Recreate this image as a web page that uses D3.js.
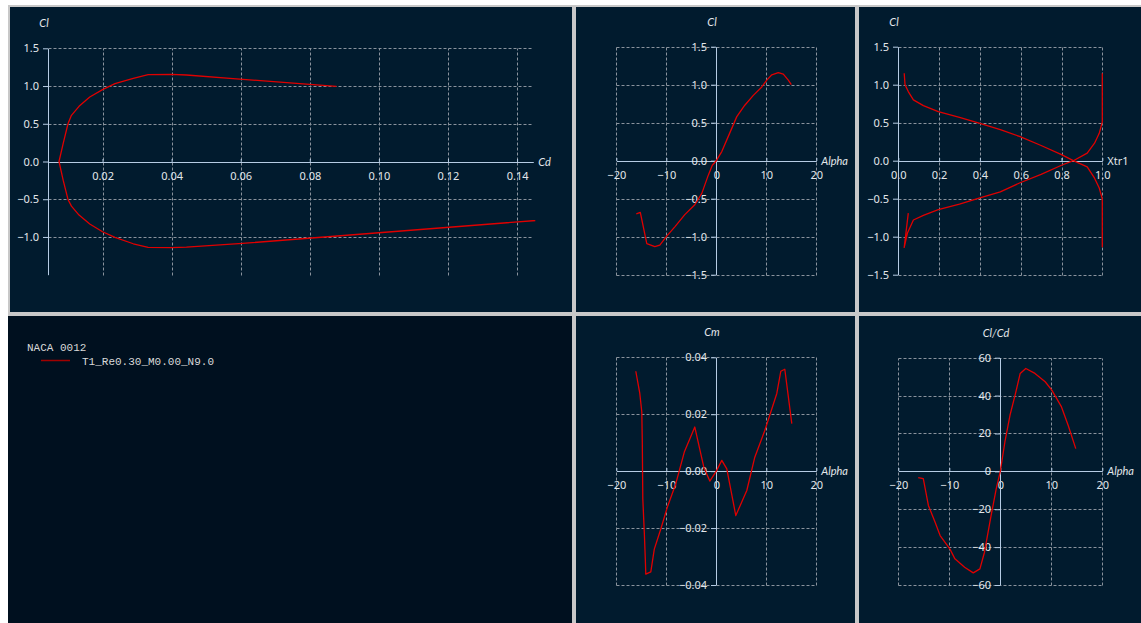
<!DOCTYPE html>
<html>
<head>
<meta charset="utf-8">
<script src="https://cdn.jsdelivr.net/npm/d3@7"></script>
<style>
  html, body { margin: 0; padding: 0; background: #ffffff; }
  svg { display: block; }
</style>
</head>
<body>
<svg id="chart" width="1141" height="623"></svg>
<script>
// ---- NACA 0012, T1_Re0.30_M0.00_N9.0 ----

// Drag polar (Cl vs Cd), ordered by incidence from -16 deg to 15 deg
const polarCd = [0.210, 0.174, 0.0605, 0.0443, 0.0400, 0.0332, 0.0289, 0.0236, 0.0200, 0.0163, 0.0132, 0.0110, 0.0100, 0.0086, 0.0074,
                 0.0086, 0.0100, 0.0110, 0.0132, 0.0163, 0.0200, 0.0236, 0.0289, 0.0332, 0.0400, 0.0443, 0.0578, 0.0771, 0.0877];
const polarCl = [-0.70, -0.68, -1.085, -1.135, -1.14, -1.138, -1.09, -1.005, -0.931, -0.829, -0.710, -0.591, -0.503, -0.247, 0.000,
                 0.238, 0.500, 0.612, 0.731, 0.855, 0.952, 1.032, 1.102, 1.151, 1.155, 1.146, 1.098, 1.032, 0.996];

// Lift curve (Cl vs Alpha)
const alphaCl = [-16, -15.2, -13.9, -12.3, -11.3, -10, -8.3, -6.3, -4.3, -2.9, -1.6, -0.8, 0, 1.1, 2.4, 4.1, 5.7, 7.4, 9.1, 10.1, 11.1, 12.4, 13.4, 14.4, 15];
const cl      = [-0.70, -0.68, -1.09, -1.13, -1.11, -1.00, -0.87, -0.71, -0.58, -0.43, -0.19, -0.06, 0.00, 0.12, 0.32, 0.58, 0.73, 0.86, 0.97, 1.06, 1.13, 1.16, 1.14, 1.06, 1.00];

// Transition location (Cl vs Xtr)
const xtrTop   = [1.0, 1.0, 0.985, 0.962, 0.926, 0.858, 0.80, 0.70, 0.597, 0.50, 0.40, 0.30, 0.196, 0.123, 0.074, 0.049, 0.033, 0.029];
const xtrTopCl = [-1.14, -0.50, -0.36, -0.23, -0.08, 0.00, 0.08, 0.20, 0.316, 0.41, 0.49, 0.57, 0.645, 0.725, 0.80, 0.91, 1.00, 1.15];
const xtrBot   = [0.049, 0.029, 0.045, 0.074, 0.123, 0.196, 0.30, 0.40, 0.50, 0.597, 0.70, 0.80, 0.858, 0.926, 0.962, 0.985, 1.0, 1.0];
const xtrBotCl = [-0.69, -1.14, -0.95, -0.78, -0.72, -0.645, -0.57, -0.49, -0.41, -0.29, -0.18, -0.06, 0.00, 0.10, 0.23, 0.36, 0.51, 1.15];

// Pitching moment (Cm vs Alpha)
const alphaCm = [-16.1, -15.3, -14.9, -14.8, -14.7, -14.4, -14.2, -14.1, -13.1, -12.4, -11.1, -9.8, -8.1, -6.4, -4.3, -2.5, -1.3, 0, 1.1, 2.1, 3.9, 6.1, 7.7, 9.7, 12.1, 12.9, 13.7, 15.1];
const cm      = [0.0351, 0.0273, 0.0208, 0.0102, -0.0097, -0.0215, -0.0309, -0.0362, -0.0354, -0.0274, -0.0203, -0.0127, -0.0044, 0.0067, 0.0155, 0.0014, -0.0035, 0.0000, 0.0038, 0.0008, -0.0156, -0.0068, 0.0049, 0.0143, 0.0273, 0.0351, 0.0358, 0.0167];

// Glide ratio (Cl/Cd vs Alpha)
const alphaClCd = [-16.1, -15.1, -14.1, -12.8, -11.8, -9.9, -8.9, -7.0, -5.3, -4.0, -3.1, -1.8, -0.8, 0, 0.9, 1.9, 2.9, 3.9, 5.0, 6.8, 8.8, 10.1, 12.0, 13.3, 14.8];
const clcd      = [-3.3, -3.9, -18.0, -26.8, -33.9, -40.9, -46.2, -50.6, -53.6, -51.5, -42.7, -23.3, -9.2, 0, 15.5, 29.6, 40.2, 51.7, 54.3, 51.7, 47.3, 42.9, 34.0, 24.3, 12.0];

// Tick values
const cdTicks    = [0.02, 0.04, 0.06, 0.08, 0.10, 0.12, 0.14];
const clTicks    = [-1.5, -1.0, -0.5, 0.0, 0.5, 1.0, 1.5];
const alphaTicks = [-20, -10, 0, 10, 20];
const xtrTicks   = [0.0, 0.2, 0.4, 0.6, 0.8, 1.0];
const cmTicks    = [-0.04, -0.02, 0.00, 0.02, 0.04];
const clcdTicks  = [-60, -40, -20, 0, 20, 40, 60];

// Legend
const foilName = "NACA 0012";
const polarName = "T1_Re0.30_M0.00_N9.0";

// ---- style ----
const PANEL_BG = "#011b2e";
const LEGEND_BG = "#00101f";
const FRAME = "#c8c8c8";
const AXIS = "#b6cce4";
const GRID = "#8a939d";
const TEXT = "#e3e7eb";
const CURVE = "#e00000";

const svg = d3.select("#chart");

// frame and panels
svg.append("rect").attr("x", 8).attr("y", 5).attr("width", 1133).attr("height", 618).attr("fill", FRAME);
const panels = [
  {x: 10,  y: 7,   w: 562, h: 305, fill: PANEL_BG},
  {x: 576, y: 7,   w: 279, h: 305, fill: PANEL_BG},
  {x: 859, y: 7,   w: 282, h: 305, fill: PANEL_BG},
  {x: 8,   y: 316, w: 564, h: 307, fill: LEGEND_BG},
  {x: 576, y: 316, w: 279, h: 307, fill: PANEL_BG},
  {x: 859, y: 316, w: 282, h: 307, fill: PANEL_BG}
];
svg.selectAll("rect.panel").data(panels).join("rect").attr("class", "panel")
  .attr("x", d => d.x).attr("y", d => d.y).attr("width", d => d.w).attr("height", d => d.h)
  .attr("fill", d => d.fill);

const px = v => Math.round(v) + 0.5;
let clipId = 0;

function graph(o) {
  const x = d3.scaleLinear().domain(o.xDomain).range(o.xRange);
  const y = d3.scaleLinear().domain(o.yDomain).range(o.yRange);
  const g = svg.append("g");

  // dashed grid
  g.selectAll(null).data(o.hGrid).join("line")
    .attr("x1", px(x(o.xDomain[0]))).attr("x2", px(x(o.xDomain[1])))
    .attr("y1", d => px(y(d))).attr("y2", d => px(y(d)))
    .attr("stroke", GRID).attr("stroke-width", 1).attr("stroke-dasharray", "3,2");
  g.selectAll(null).data(o.vGrid).join("line")
    .attr("y1", px(y(o.yDomain[0]))).attr("y2", px(y(o.yDomain[1])))
    .attr("x1", d => px(x(d))).attr("x2", d => px(x(d)))
    .attr("stroke", GRID).attr("stroke-width", 1).attr("stroke-dasharray", "3,2");

  // axes
  const yAxisX = Math.round(x(o.yAxisAt));
  const xAxisY = Math.round(y(0));
  const gx = g.append("g").attr("transform", `translate(0,${xAxisY})`)
    .call(d3.axisBottom(x).tickValues(o.xTicks).tickFormat(o.xFmt)
      .tickSizeInner(-3).tickSizeOuter(0).tickPadding(10.5));
  const gy = g.append("g").attr("transform", `translate(${yAxisX},0)`)
    .call(d3.axisLeft(y).tickValues(o.yTicks).tickFormat(o.yFmt)
      .tickSizeInner(5).tickSizeOuter(0).tickPadding(4));
  [gx, gy].forEach(a => {
    a.attr("font-family", "'Noto Sans', 'Liberation Sans', sans-serif").attr("font-size", 11);
    a.select(".domain").attr("stroke", AXIS);
    a.selectAll(".tick line").attr("stroke", AXIS);
    a.selectAll(".tick text").attr("fill", TEXT);
  });

  // axis titles
  g.append("text").text(o.yTitle)
    .attr("x", yAxisX - 4).attr("y", o.yRange[1] - 21)
    .attr("text-anchor", "middle").attr("fill", TEXT)
    .attr("font-family", "Lato, sans-serif").attr("font-style", "italic").attr("font-size", 11);
  g.append("text").text(o.xTitle)
    .attr("x", o.xRange[1] + 5).attr("y", xAxisY + 4)
    .attr("fill", TEXT)
    .attr("font-family", o.xTitleItalic ? "Lato, sans-serif" : "'Noto Sans', sans-serif")
    .attr("font-style", o.xTitleItalic ? "italic" : "normal").attr("font-size", 11);

  // curves, clipped to the plotting area
  const id = "clip" + (clipId++);
  g.append("clipPath").attr("id", id).append("rect")
    .attr("x", o.xRange[0] - 8).attr("y", o.yRange[1] - 8)
    .attr("width", o.xRange[1] - o.xRange[0] + 10).attr("height", o.yRange[0] - o.yRange[1] + 16);
  const line = d3.line().x(d => x(d[0])).y(d => y(d[1]));
  o.series.forEach(s => {
    g.append("path").datum(d3.zip(s[0], s[1]))
      .attr("clip-path", `url(#${id})`)
      .attr("d", line).attr("fill", "none")
      .attr("stroke", CURVE).attr("stroke-width", 1.3).attr("stroke-linejoin", "round");
  });
}

const f1 = d3.format(".1f"), f2 = d3.format(".2f"), fi = d3.format("d");

// Cl vs Cd
graph({
  xDomain: [0.0043, 0.1447], xRange: [48.3, 533.3],
  yDomain: [-1.5, 1.5], yRange: [274.7, 48.3],
  xTicks: cdTicks, yTicks: clTicks.filter(v => v > -1.5), xFmt: f2, yFmt: f1,
  hGrid: clTicks.filter(v => v !== 0 && v > -1.5), vGrid: cdTicks,
  yAxisAt: 0.0043, xTitle: "Cd", yTitle: "Cl", xTitleItalic: true,
  series: [[polarCd, polarCl]]
});

// Cl vs Alpha
graph({
  xDomain: [-20, 20], xRange: [616.3, 816.3],
  yDomain: [-1.5, 1.5], yRange: [274.7, 46.7],
  xTicks: alphaTicks, yTicks: clTicks, xFmt: fi, yFmt: f1,
  hGrid: clTicks.filter(v => v !== 0), vGrid: alphaTicks.filter(v => v !== 0),
  yAxisAt: 0, xTitle: "Alpha", yTitle: "Cl", xTitleItalic: true,
  series: [[alphaCl, cl]]
});

// Cl vs Xtr1
graph({
  xDomain: [0, 1], xRange: [898.3, 1102.3],
  yDomain: [-1.5, 1.5], yRange: [274.7, 46.7],
  xTicks: xtrTicks, yTicks: clTicks, xFmt: f1, yFmt: f1,
  hGrid: clTicks.filter(v => v !== 0), vGrid: xtrTicks.filter(v => v !== 0),
  yAxisAt: 0, xTitle: "Xtr1", yTitle: "Cl", xTitleItalic: false,
  series: [[xtrTop, xtrTopCl], [xtrBot, xtrBotCl]]
});

// Cm vs Alpha
graph({
  xDomain: [-20, 20], xRange: [616.3, 816.3],
  yDomain: [-0.04, 0.04], yRange: [585, 357.3],
  xTicks: alphaTicks, yTicks: cmTicks, xFmt: fi, yFmt: f2,
  hGrid: cmTicks.filter(v => v !== 0), vGrid: alphaTicks.filter(v => v !== 0),
  yAxisAt: 0, xTitle: "Alpha", yTitle: "Cm", xTitleItalic: true,
  series: [[alphaCm, cm]]
});

// Cl/Cd vs Alpha
graph({
  xDomain: [-20, 20], xRange: [898.3, 1102.3],
  yDomain: [-60, 60], yRange: [585, 357.7],
  xTicks: alphaTicks, yTicks: clcdTicks, xFmt: fi, yFmt: fi,
  hGrid: clcdTicks.filter(v => v !== 0), vGrid: alphaTicks.filter(v => v !== 0),
  yAxisAt: 0, xTitle: "Alpha", yTitle: "Cl/Cd", xTitleItalic: true,
  series: [[alphaClCd, clcd]]
});

// legend
const lg = svg.append("g").attr("font-family", "'Liberation Mono', 'DejaVu Sans Mono', monospace")
  .attr("font-size", 11).attr("fill", "#d9d9d9");
lg.append("text").attr("x", 27).attr("y", 351).text(foilName);
lg.append("line").attr("x1", 41).attr("x2", 70).attr("y1", 360.5).attr("y2", 360.5)
  .attr("stroke", "#a00000").attr("stroke-width", 1.5);
lg.append("text").attr("x", 82).attr("y", 365).text(polarName);
</script>
</body>
</html>
